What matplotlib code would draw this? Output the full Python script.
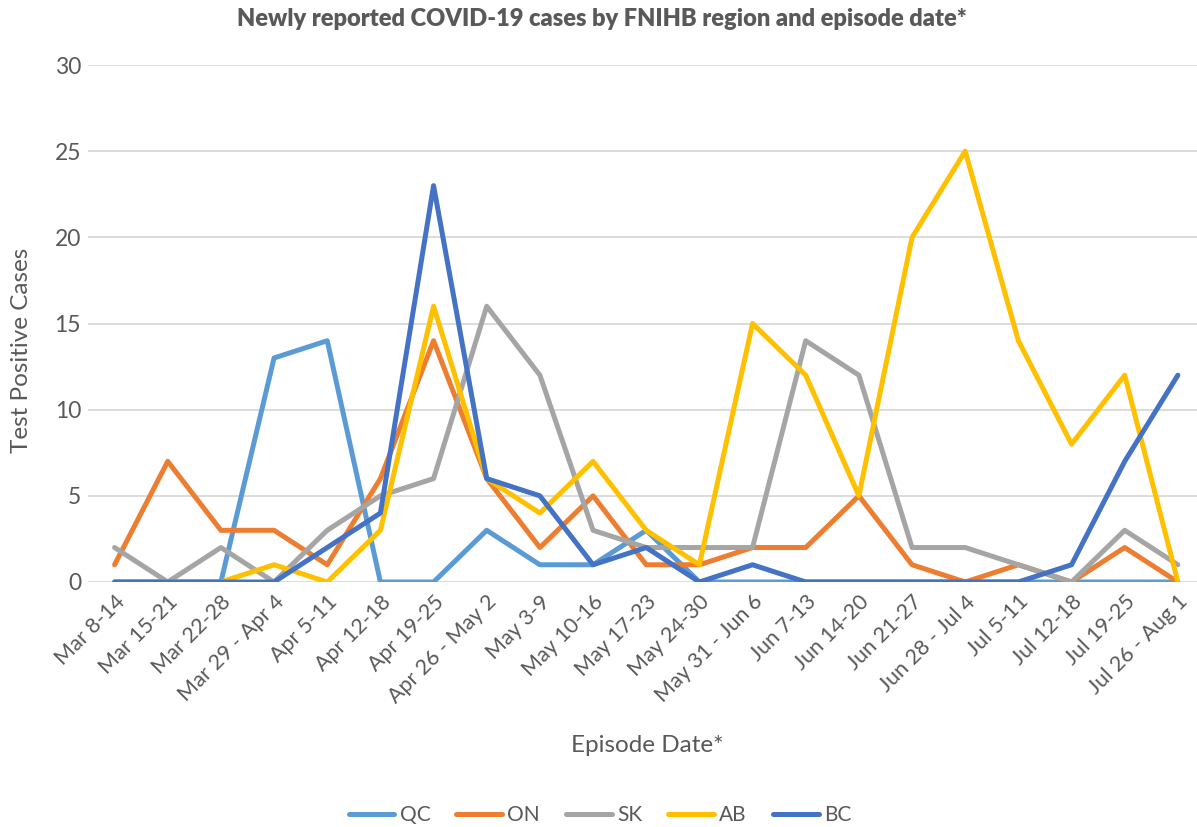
import matplotlib
matplotlib.use("Agg")
import matplotlib.pyplot as plt

categories = ["Mar 8-14", "Mar 15-21", "Mar 22-28", "Mar 29 - Apr 4", "Apr 5-11",
              "Apr 12-18", "Apr 19-25", "Apr 26 - May 2", "May 3-9", "May 10-16",
              "May 17-23", "May 24-30", "May 31 - Jun 6", "Jun 7-13", "Jun 14-20",
              "Jun 21-27", "Jun 28 - Jul 4", "Jul 5-11", "Jul 12-18", "Jul 19-25",
              "Jul 26 - Aug 1"]

qc = [0, 0, 0, 13, 14, 0, 0, 3, 1, 1, 3, 0, 0, 0, 0, 0, 0, 0, 0, 0, 0]
on = [1, 7, 3, 3, 1, 6, 14, 6, 2, 5, 1, 1, 2, 2, 5, 1, 0, 1, 0, 2, 0]
sk = [2, 0, 2, 0, 3, 5, 6, 16, 12, 3, 2, 2, 2, 14, 12, 2, 2, 1, 0, 3, 1]
ab = [0, 0, 0, 1, 0, 3, 16, 6, 4, 7, 3, 1, 15, 12, 5, 20, 25, 14, 8, 12, 0]
bc = [0, 0, 0, 0, 2, 4, 23, 6, 5, 1, 2, 0, 1, 0, 0, 0, 0, 0, 1, 7, 12]

series = [("QC", qc, "#5B9BD5"), ("ON", on, "#ED7D31"), ("SK", sk, "#A5A5A5"),
          ("AB", ab, "#FFC000"), ("BC", bc, "#4472C4")]

plt.rcParams['font.family'] = ['Lato', 'DejaVu Sans']
W, H = 1197, 827
fig = plt.figure(figsize=(W / 100, H / 100), dpi=100)
left, right, top, bottom = 88, 1197, 65, 582
ax = fig.add_axes([left / W, (H - bottom) / H, (right - left) / W, (bottom - top) / H])

x = list(range(len(categories)))
for i, (name, vals, col) in enumerate(series):
    ax.plot(x, vals, color=col, lw=3.6, label=name, solid_joinstyle='round',
            solid_capstyle='round', zorder=3 + i)

ax.set_xlim(-0.5, 20.36)
ax.set_ylim(0, 30)
ax.set_yticks(range(0, 31, 5))
ax.set_xticks(x)
ax.set_xticklabels(categories, rotation=45, ha='right', rotation_mode='anchor',
                   fontsize=15.5, color='#595959')
ax.tick_params(axis='y', labelsize=16.5, colors='#595959', length=0, pad=5)
ax.tick_params(axis='x', length=0, pad=7)
ax.grid(axis='y', color='#D9D9D9', lw=1.3, zorder=0)
for s in ax.spines.values():
    s.set_visible(False)

fig.text(602 / W, 1 - 19 / H, "Newly reported COVID-19 cases by FNIHB region and episode date*",
         ha='center', va='center', fontsize=17, fontweight='heavy', color='#595959')
fig.text(22 / W, 1 - 350 / H, "Test Positive Cases", rotation=90, ha='center', va='center',
         fontsize=17.5, color='#595959')
fig.text(647 / W, 1 - 746 / H, "Episode Date*", ha='center', va='center',
         fontsize=17.5, color='#595959')

leg = fig.legend(loc='center', bbox_to_anchor=(600 / W, 1 - 815 / H), ncol=5, frameon=False,
                 fontsize=15, handlelength=2.2, columnspacing=1.25, handletextpad=0.25)
for t in leg.get_texts():
    t.set_color('#595959')

fig.savefig("out.png", dpi=100)
